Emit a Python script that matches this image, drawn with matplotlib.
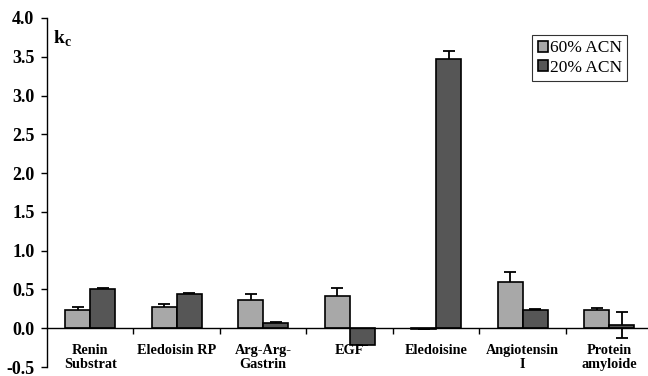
import matplotlib
matplotlib.use("Agg")
import matplotlib.pyplot as plt
import numpy as np

categories = ["Renin\nSubstrat", "Eledoisin RP", "Arg-Arg-\nGastrin", "EGF",
              "Eledoisine", "Angiotensin\nI", "Protein\namyloide"]
acn60 = [0.23, 0.28, 0.365, 0.42, -0.01, 0.59, 0.24]
acn60_err = [0.04, 0.03, 0.07, 0.10, 0.0, 0.13, 0.02]
acn20 = [0.50, 0.435, 0.07, -0.22, 3.47, 0.24, 0.04]
acn20_err = [0.02, 0.015, 0.01, 0.0, 0.10, 0.01, 0.17]
yticks = [-0.5, 0.0, 0.5, 1.0, 1.5, 2.0, 2.5, 3.0, 3.5, 4.0]

plt.rcParams['font.family'] = ['Liberation Serif', 'DejaVu Serif']

fig = plt.figure(figsize=(6.48, 3.76), dpi=100)
ax = fig.add_axes([47/648, 9/376, 1 - 47/648, (367-18)/376])

x = np.arange(len(categories))
w = 0.29
ekw = dict(ecolor='black', elinewidth=1.3, capsize=4.5, capthick=1.3, zorder=1)
ax.bar(x - w/2, acn60, w, color='#a8a8a8', edgecolor='black', linewidth=1.2,
       label='60% ACN', zorder=2)
ax.errorbar(x - w/2, acn60, yerr=acn60_err, fmt='none', **ekw)
ax.bar(x + w/2, acn20, w, color='#565656', edgecolor='black', linewidth=1.2,
       label='20% ACN', zorder=2)
ax.errorbar(x + w/2, acn20, yerr=acn20_err, fmt='none', **ekw)

ax.set_ylim(-0.5, 4.0)
ax.set_xlim(-0.5, 6.45)
ax.set_yticks(yticks)
ax.set_yticklabels([f"{v:.1f}" for v in yticks], fontsize=13, fontweight='bold')
ax.tick_params(axis='y', direction='out', length=4, width=1, pad=5)

for s in ['top', 'right']:
    ax.spines[s].set_visible(False)
ax.spines['bottom'].set_position(('data', 0))
ax.spines['left'].set_linewidth(1)
ax.spines['bottom'].set_linewidth(1)

ax.set_xticks(np.arange(0.5, 6.0, 1.0))
ax.set_xticklabels([])
ax.tick_params(axis='x', direction='out', length=4, width=1)

for i, c in enumerate(categories):
    ax.text(i, -0.2, c, ha='center', va='top', fontsize=10.3, fontweight='bold',
            linespacing=1.15)

ax.text(6/601, 3.86, r"k$_\mathregular{c}$", fontsize=14, fontweight='bold',
        va='top', ha='left', transform=ax.get_yaxis_transform())

leg = ax.legend(loc='upper right', fontsize=12.5,
                frameon=True, fancybox=False, edgecolor='black', handlelength=0.6,
                handleheight=0.6, handletextpad=0.1, borderpad=0.3, labelspacing=0.2,
                borderaxespad=0)
leg.set_bbox_to_anchor((627/648, 1 - 35/376), transform=fig.transFigure)
leg.get_frame().set_linewidth(0.8)

fig.savefig("out.png", dpi=100)
